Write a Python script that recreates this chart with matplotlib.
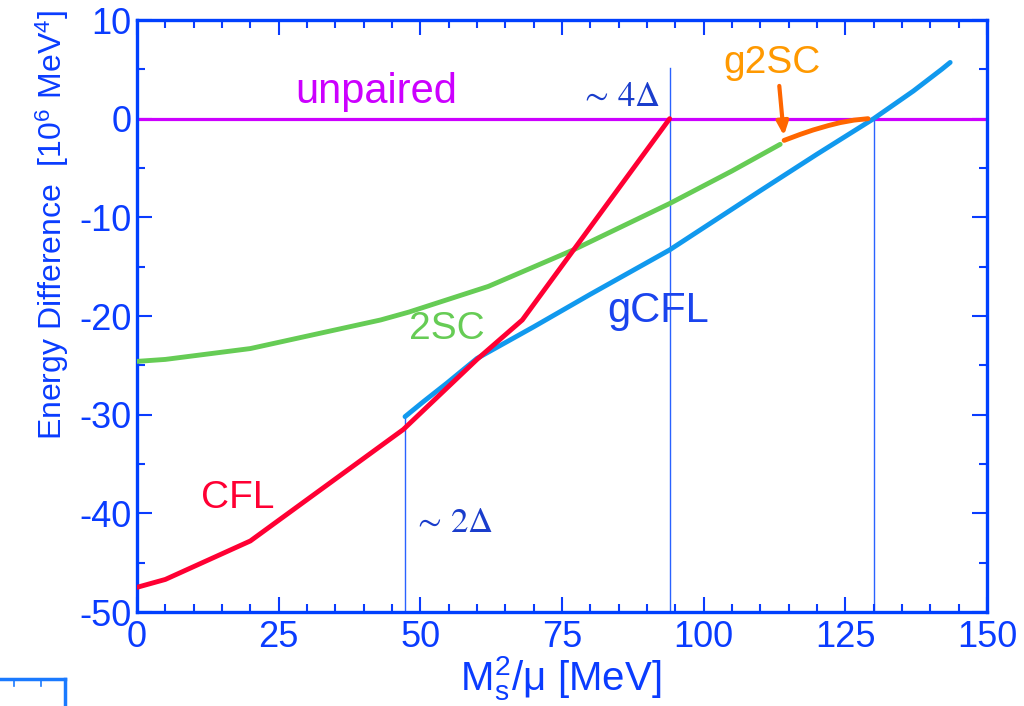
import matplotlib

matplotlib.use("Agg")

import matplotlib.pyplot as plt
from matplotlib.lines import Line2D

# data (x in MeV, y in 10^6 MeV^4)
cfl_x = [0, 5, 20, 47, 60, 68, 94]
cfl_y = [-47.5, -46.7, -42.8, -31.5, -24.4, -20.4, 0.0]

gcfl_x = [47.3, 50.5, 54.7, 60, 70, 80, 94, 110, 120, 130, 137, 142, 143.5]
gcfl_y = [-30.2, -28.7, -26.8, -24.3, -21.1, -17.8, -13.3, -7.3, -3.6, 0.0, 2.8, 5.0, 5.7]

sc2_x = [0, 5, 20, 43, 48, 62, 77, 94, 105, 113.5]
sc2_y = [-24.6, -24.4, -23.3, -20.4, -19.6, -17.0, -13.3, -8.6, -5.3, -2.6]

g2sc_x = [114.2, 117, 119.3, 122, 124.1, 126.5, 129]
g2sc_y = [-2.2, -1.6, -1.15, -0.7, -0.4, -0.15, 0.0]

unpaired_x = [0, 150]
unpaired_y = [0, 0]

# thin vertical markers: (x, top of line)
marker_x = [47.3, 94, 130]
marker_top = [-30.2, 5.1, 0.0]

plt.rcParams.update(
    {
        "font.family": ["Liberation Sans", "DejaVu Sans"],
        "mathtext.fontset": "stix",
        "axes.unicode_minus": False,
    }
)

BLUE = "#0a3cff"

fig = plt.figure(figsize=(10.24, 7.06), dpi=100, facecolor="white")
ax = fig.add_axes((137 / 1024, 1 - 612 / 706, 850 / 1024, 592 / 706))

ax.plot(unpaired_x, unpaired_y, color="#cc00ff", lw=2.3, zorder=2)
for x, top in zip(marker_x, marker_top):
    ax.plot([x, x], [-50, top], color="#2a62ff", lw=1.0, zorder=1)
ax.plot(sc2_x, sc2_y, color="#66cc55", lw=3.5, solid_capstyle="round", zorder=3)
ax.plot(gcfl_x, gcfl_y, color="#1199ee", lw=3.5, solid_capstyle="round", zorder=3)
ax.plot(cfl_x, cfl_y, color="#ff0033", lw=3.5, solid_capstyle="round", zorder=4)
ax.plot(g2sc_x, g2sc_y, color="#ff6600", lw=3.5, solid_capstyle="round", zorder=4)

ax.annotate(
    "",
    xy=(114.2, -2.0),
    xytext=(113.3, 3.6),
    arrowprops=dict(arrowstyle="-|>,head_length=0.8,head_width=0.35", color="#ff6600", lw=3),
)

ax.text(42.2, 2.7, "unpaired", color="#cc00ff", fontsize=30, ha="center", va="center")
ax.text(17.8, -38.4, "CFL", color="#ff0033", fontsize=28, ha="center", va="center")
ax.text(54.7, -21.3, "2SC", color="#66cc55", fontsize=28, ha="center", va="center")
ax.text(91.9, -19.5, "gCFL", color="#1a44ee", fontsize=30, ha="center", va="center")
ax.text(112, 5.6, "g2SC", color="#ff9900", fontsize=28, ha="center", va="center")
ax.text(85.2, 2.2, r"$\sim\,4\Delta$", color="#1a3dcc", fontsize=25, ha="center", va="center")
ax.text(55.6, -40.9, r"$\sim\,2\Delta$", color="#1a3dcc", fontsize=25, ha="center", va="center")

ax.set_xlim(0, 150)
ax.set_ylim(-50, 10)
ax.set_xticks([0, 25, 50, 75, 100, 125, 150])
ax.set_xticks(range(0, 151, 5), minor=True)
ax.set_yticks(range(-50, 11, 10))
ax.set_yticks(range(-50, 11, 5), minor=True)
ax.tick_params(
    which="both", direction="in", top=True, right=True, colors=BLUE,
    labelsize=26, width=1.5,
)
ax.tick_params(which="major", length=11, pad=6)
ax.tick_params(which="minor", length=5.5)
ax.tick_params(axis="y", pad=4)
for spine in ax.spines.values():
    spine.set_color("#0040ff")
    spine.set_linewidth(2.4)

ax.set_xlabel(r"M$_\mathregular{s}^\mathregular{2}$/μ [MeV]", color=BLUE, fontsize=29)
ax.xaxis.set_label_coords(0.498, -0.072)
ax.set_ylabel(
    r"Energy Difference  [10$^\mathregular{6}$ MeV$^\mathregular{4}$]",
    color=BLUE, fontsize=23,
)
ax.yaxis.set_label_coords(-0.078, 0.654)

# fragment of a neighbouring frame in the lower left corner
frag = "#1a7aff"
fig.add_artist(Line2D([0, 65 / 1024], [1 - 679 / 706] * 2, color=frag, lw=2.5))
fig.add_artist(Line2D([65 / 1024] * 2, [0, 1 - 679 / 706], color=frag, lw=2.5))
for tx in (14, 41):
    fig.add_artist(
        Line2D([tx / 1024] * 2, [1 - 679 / 706, 1 - 686 / 706], color=frag, lw=1.2)
    )

fig.savefig("out.png", dpi=100, facecolor="white")
